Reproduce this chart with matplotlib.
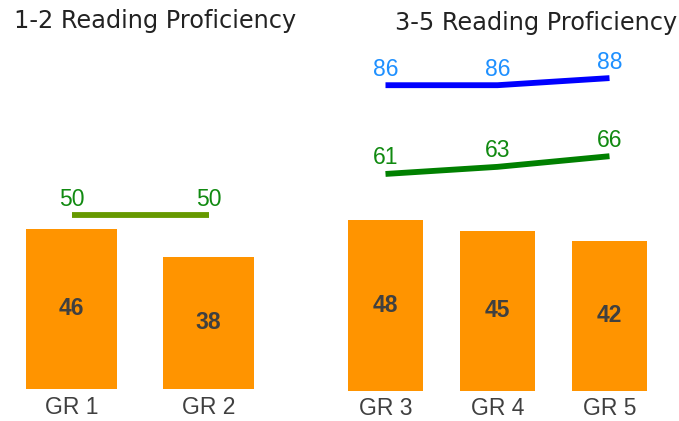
import matplotlib
matplotlib.use("Agg")
import matplotlib.pyplot as plt

# Data
grades_12 = ["GR 1", "GR 2"]
scores_12 = [46, 38]
target_12 = [50, 50]

grades_35 = ["GR 3", "GR 4", "GR 5"]
scores_35 = [48, 45, 42]
green_35 = [61, 63, 66]
blue_35 = [86, 86, 88]

W, H = 679, 421
bar_color = "#ff9400"
label_gray = "#404040"
arial = "Liberation Sans"

fig = plt.figure(figsize=(W / 100, H / 100), dpi=100)


def px_axes(x0, x1, base):
    # axes spanning pixels x0..x1 horizontally, from the top of the figure down to the baseline
    return fig.add_axes([x0 / W, (H - base) / H, (x1 - x0) / W, base / H])


def style(ax, names):
    ax.set_xticks(range(len(names)))
    ax.set_xticklabels(names, fontsize=16.5, color=label_gray, family=arial)
    ax.tick_params(axis="x", length=0, pad=5)
    ax.set_yticks([])
    for s in ax.spines.values():
        s.set_visible(False)


def bar_labels(ax, vals):
    for i, v in enumerate(vals):
        ax.text(i, v / 2, str(v), ha="center", va="center", fontsize=16.5,
                fontweight="bold", color=label_gray, family=arial)


def line_labels(ax, vals, idx, color):
    for i in idx:
        ax.annotate(str(vals[i]), (i, vals[i]), xytext=(0, 11.5), textcoords="offset points",
                    ha="center", va="center", fontsize=16.5, color=color, family=arial)


# left panel: 1-2
base_l = 388.7
ax1 = px_axes(0, 340, base_l)
ax1.set_xlim((0 - 71.5) / 137, (340 - 71.5) / 137)
ax1.set_ylim(0, base_l / 3.47)
ax1.bar(range(len(scores_12)), scores_12, width=0.664, color=bar_color)
ax1.plot(range(len(target_12)), target_12, color="#669900", lw=4.2, solid_capstyle="butt")
bar_labels(ax1, scores_12)
line_labels(ax1, target_12, [0, 1], "#118a11")
style(ax1, grades_12)

# right panel: 3-5
base_r = 390.5
ax2 = px_axes(340, 679, base_r)
ax2.set_xlim((340 - 385.5) / 112, (679 - 385.5) / 112)
ax2.set_ylim(0, base_r / 3.55)
ax2.bar(range(len(scores_35)), scores_35, width=0.67, color=bar_color)
ax2.plot(range(len(green_35)), green_35, color="#008000", lw=4.2, solid_capstyle="butt")
ax2.plot(range(len(blue_35)), blue_35, color="#0000ff", lw=4.2, solid_capstyle="butt")
bar_labels(ax2, scores_35)
line_labels(ax2, green_35, [0, 1, 2], "#118a11")
line_labels(ax2, blue_35, [0, 1, 2], "#1e90ff")
style(ax2, grades_35)

fig.text(14 / W, 1 - 28 / H, "1-2 Reading Proficiency", ha="left", va="baseline",
         fontsize=17.3, color="#222222", family="DejaVu Sans")
fig.text(677 / W, 1 - 30 / H, "3-5 Reading Proficiency", ha="right", va="baseline",
         fontsize=17.3, color="#222222", family="DejaVu Sans")

fig.savefig("out.png", dpi=100)
